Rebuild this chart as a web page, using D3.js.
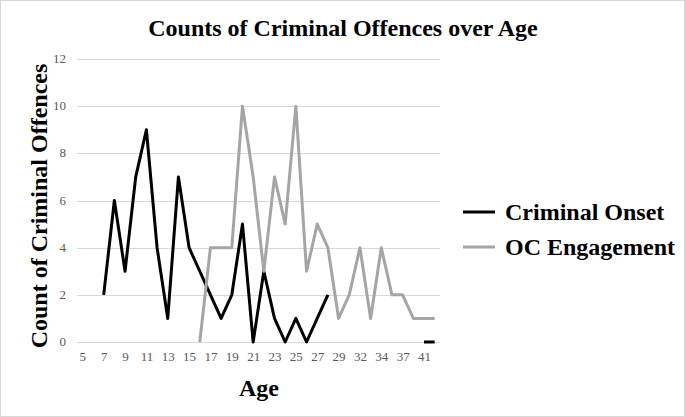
<!DOCTYPE html>
<html>
<head>
<meta charset="utf-8">
<script src="https://cdn.jsdelivr.net/npm/d3@7"></script>
<style>
  body { margin: 0; background: #fff; }
  svg { display: block; font-family: "Liberation Serif", "Times New Roman", serif; }
</style>
</head>
<body>
<div id="chart"></div>
<script>
const width = 685;
const height = 417;

// ages on the category axis (only every other one is labelled)
const ages = [5, 6, 7, 8, 9, 10, 11, 12, 13, 14, 15, 16, 17, 18, 19, 20, 21, 22, 23, 24,
  25, 26, 27, 28, 29, 30, 32, 33, 34, 36, 37, 39, 41, 42];
const onset = [null, null, 2, 6, 3, 7, 9, 4, 1, 7, 4, 3, 2, 1, 2, 5, 0, 3, 1, 0,
  1, 0, 1, 2, null, null, null, null, null, null, null, null, 0, 0];
const ocEngagement = [null, null, null, null, null, null, null, null, null, null, null, 0, 4, 4, 4, 10, 7, 3, 7, 5,
  10, 3, 5, 4, 1, 2, 4, 1, 4, 2, 2, 1, 1, 1];
const yTicks = [0, 2, 4, 6, 8, 10, 12];

const series = [
  { name: 'Criminal Onset', values: onset, color: '#000000' },
  { name: 'OC Engagement', values: ocEngagement, color: '#a5a5a5' }
];

const svg = d3.select('#chart').append('svg')
  .attr('width', width)
  .attr('height', height);

// outer frame
svg.append('rect')
  .attr('x', 0.5).attr('y', 0.5)
  .attr('width', width - 1).attr('height', height - 1)
  .style('fill', '#fff')
  .style('stroke', '#d9d9d9');

const x = d3.scalePoint()
  .domain(ages)
  .range([77, 440])
  .padding(0.5);

const y = d3.scaleLinear()
  .domain([0, 12])
  .range([342, 59]);

// gridlines
svg.append('g')
  .selectAll('line')
  .data(yTicks)
  .join('line')
  .attr('x1', 77).attr('x2', 440)
  .attr('y1', d => Math.round(y(d)) + 0.5)
  .attr('y2', d => Math.round(y(d)) + 0.5)
  .style('stroke', '#d9d9d9')
  .style('stroke-width', 1);

// y tick labels
svg.append('g')
  .selectAll('text')
  .data(yTicks)
  .join('text')
  .attr('x', 66)
  .attr('y', d => y(d) + 4)
  .attr('text-anchor', 'end')
  .style('font-size', '13px')
  .style('fill', '#595959')
  .text(d => d);

// x tick labels
const xAxis = d3.axisBottom(x)
  .tickValues(ages.filter((d, i) => i % 2 === 0))
  .tickSize(0)
  .tickPadding(10);

const gx = svg.append('g')
  .attr('transform', 'translate(0,' + y(0) + ')')
  .call(xAxis);
gx.select('.domain').remove();
gx.selectAll('text')
  .style('font-family', '"Liberation Serif", serif')
  .style('font-size', '13px')
  .style('fill', '#595959');

// lines
const line = d3.line()
  .defined(d => d.v !== null)
  .x(d => x(d.age))
  .y(d => y(d.v));

series.forEach(s => {
  svg.append('path')
    .datum(ages.map((a, i) => ({ age: a, v: s.values[i] })))
    .attr('d', line)
    .style('fill', 'none')
    .style('stroke', s.color)
    .style('stroke-width', 3)
    .style('stroke-linejoin', 'round');
});

// title
svg.append('text')
  .attr('x', 343)
  .attr('y', 36)
  .attr('text-anchor', 'middle')
  .style('font-size', '24px')
  .style('font-weight', 'bold')
  .text('Counts of Criminal Offences over Age');

// axis titles
svg.append('text')
  .attr('x', 259)
  .attr('y', 396)
  .attr('text-anchor', 'middle')
  .style('font-size', '24px')
  .style('font-weight', 'bold')
  .text('Age');

svg.append('text')
  .attr('transform', 'translate(47,206) rotate(-90)')
  .attr('text-anchor', 'middle')
  .style('font-size', '24px')
  .style('font-weight', 'bold')
  .text('Count of Criminal Offences');

// legend
const legend = svg.append('g')
  .selectAll('g')
  .data(series)
  .join('g')
  .attr('transform', (d, i) => `translate(463, ${212 + i * 35})`);

legend.append('line')
  .attr('x1', 0).attr('x2', 32)
  .style('stroke', d => d.color)
  .style('stroke-width', 3);

legend.append('text')
  .attr('x', 42)
  .attr('y', 8)
  .style('font-size', '24px')
  .style('font-weight', 'bold')
  .text(d => d.name);
</script>
</body>
</html>
